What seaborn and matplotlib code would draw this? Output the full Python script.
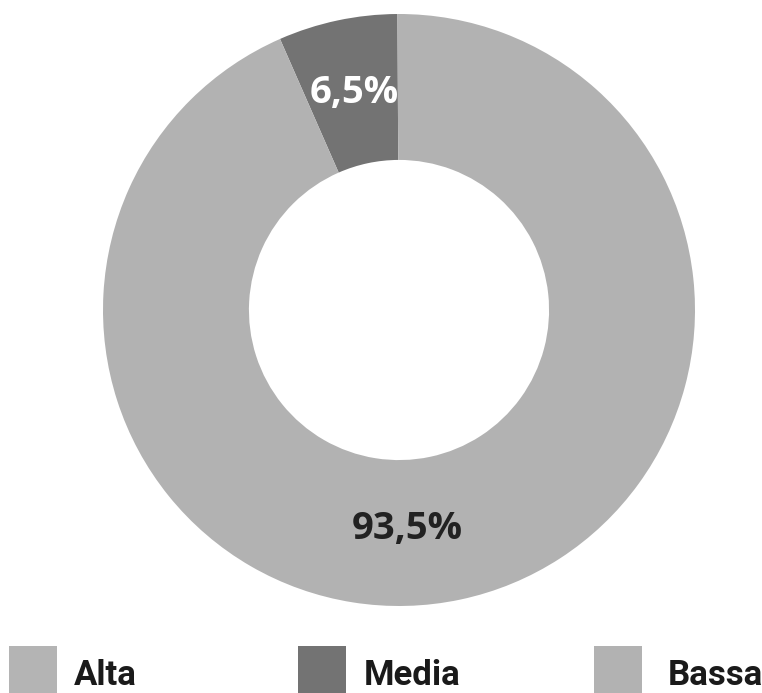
import matplotlib
matplotlib.use("Agg")
import matplotlib.pyplot as plt
from matplotlib.patches import Rectangle
import seaborn as sns

# Share of cases per level
categories = ["Alta", "Media", "Bassa"]
values = [0.0, 6.5, 93.5]
colors = ["#b4b4b4", "#737373", "#b2b2b2"]
label_colors = ["#222222", "#ffffff", "#222222"]

sns.set_theme(style="white")
plt.rcParams["font.family"] = ["Open Sans", "DejaVu Sans"]
legend_family = ["Roboto", "DejaVu Sans"]

W, H = 762, 693
fig = plt.figure(figsize=(W / 100, H / 100), dpi=100)
fig.patch.set_facecolor("white")

# Donut: outer radius 296 px centred at (399, 310) from top-left
cx, cy, r = 399, 310, 296
ax = fig.add_axes([(cx - r) / W, (H - cy - r) / H, 2 * r / W, 2 * r / H])
wedges, _ = ax.pie(
    values,
    colors=colors,
    startangle=90.3,
    counterclock=True,
    radius=1.0,
    wedgeprops=dict(width=0.493, edgecolor="none", linewidth=0),
)
ax.set_xlim(-1, 1)
ax.set_ylim(-1, 1)
ax.set_aspect("auto")
ax.axis("off")

# Value labels inside the ring (x, baseline y in axis units)
label_pos = {"Media": (-0.152, 0.699), "Bassa": (0.027, -0.774)}
label_size = {"Media": 27.5, "Bassa": 27.5}
for cat, val, lc in zip(categories, values, label_colors):
    if cat in label_pos:
        x, y = label_pos[cat]
        ax.text(x, y, f"{val:.1f}%".replace(".", ","), ha="center", va="baseline",
                fontsize=label_size[cat], fontweight="bold", color=lc)

# Legend row along the bottom edge
swatch_x = [9, 298, 594]
text_x = [74, 364, 668]
for cat, col, sx, tx in zip(categories, colors, swatch_x, text_x):
    fig.add_artist(Rectangle((sx / W, 0), 48 / W, 47 / H, transform=fig.transFigure,
                             facecolor=col, edgecolor="none"))
    fig.text(tx / W, 8 / H, cat, ha="left", va="baseline", fontsize=25,
             fontweight="bold", color="#1a1a1a", family=legend_family)

fig.savefig("out.png", dpi=100, facecolor="white")
